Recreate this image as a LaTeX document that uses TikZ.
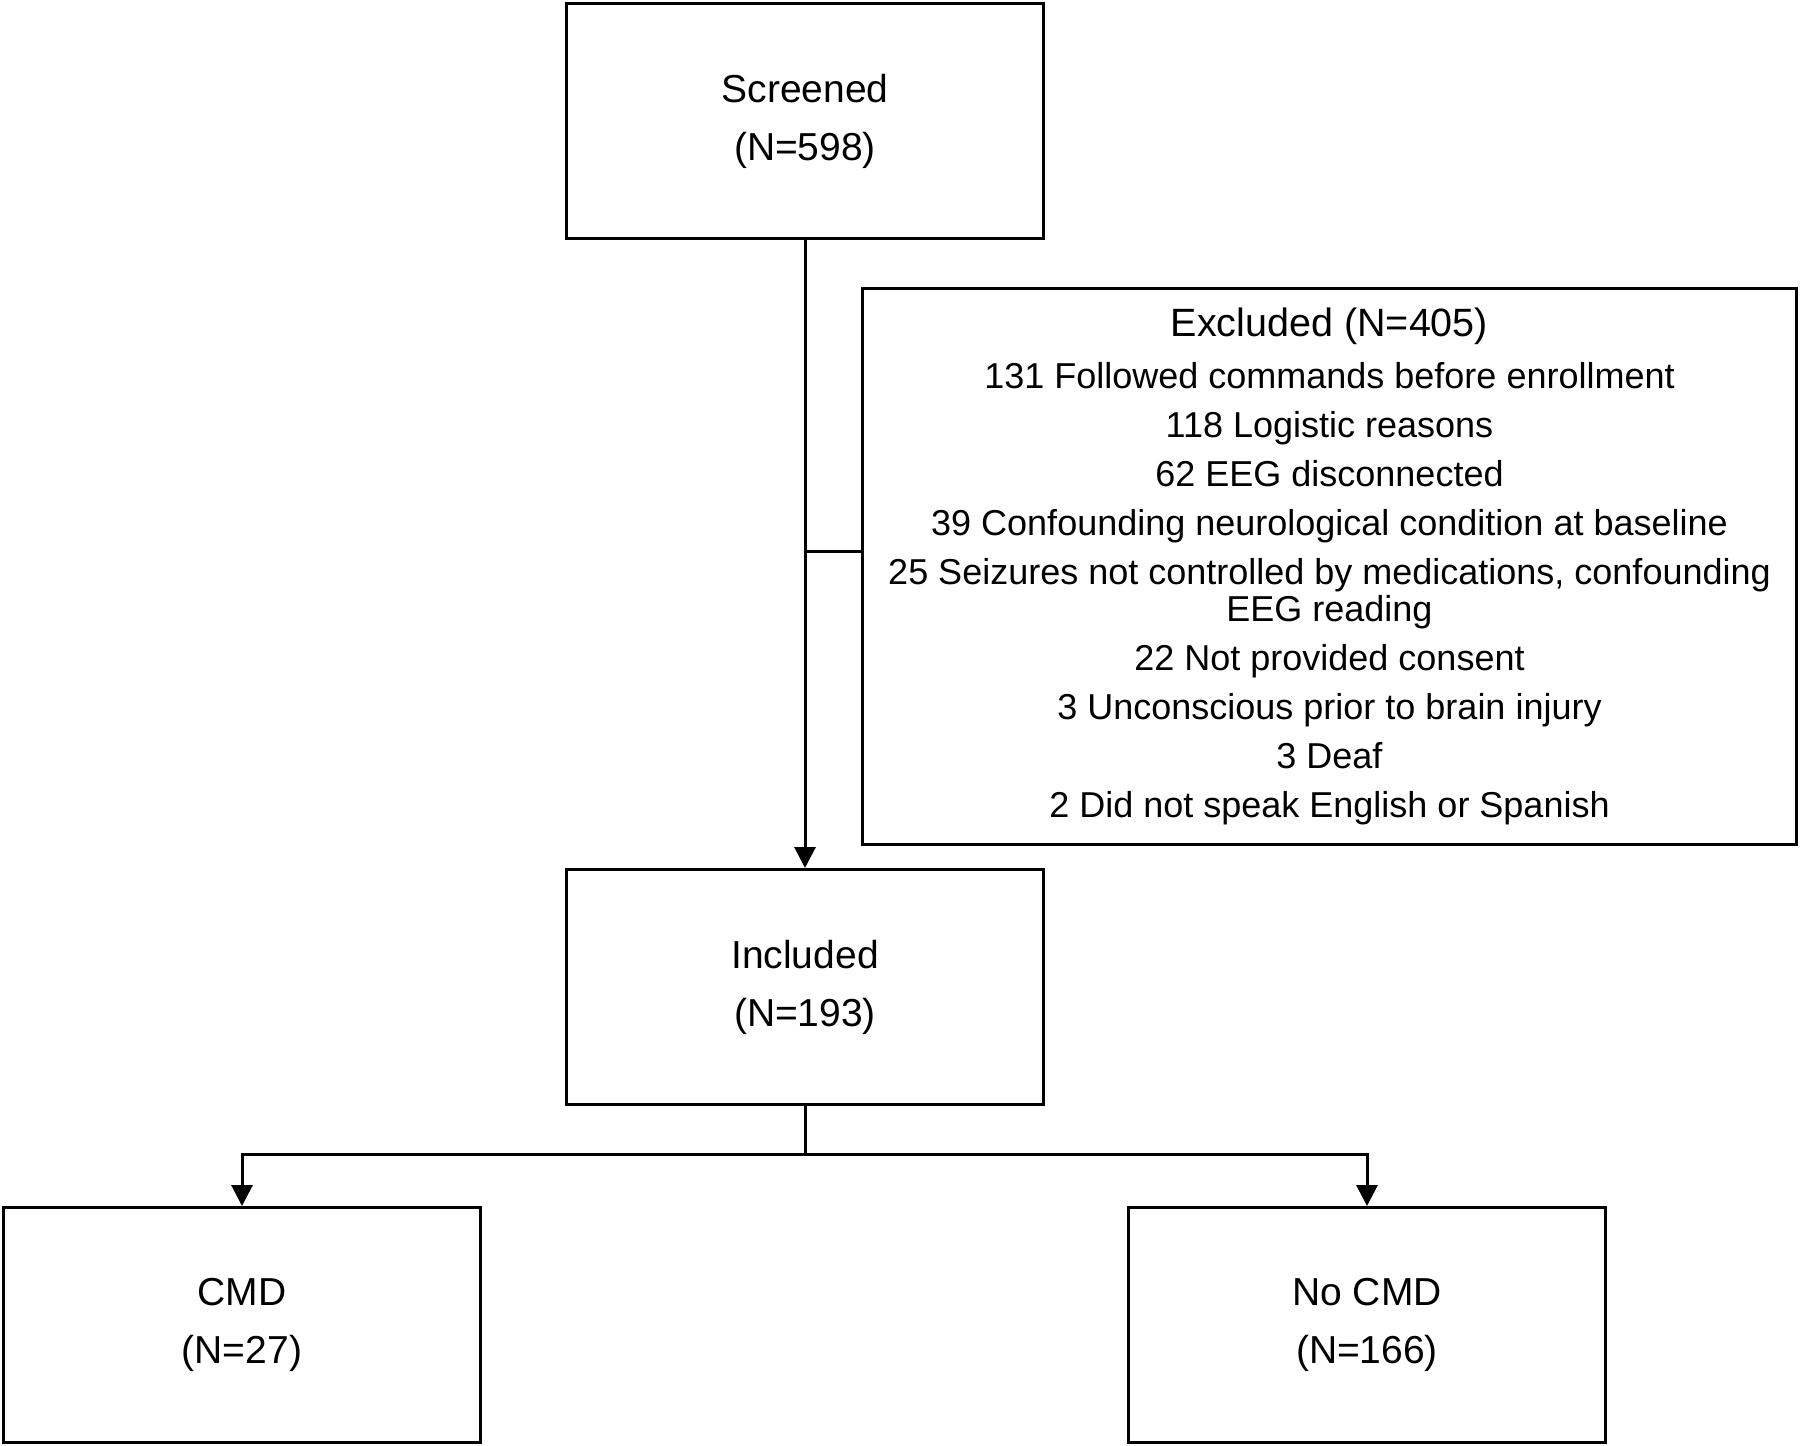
\documentclass[tikz,border=0pt]{standalone}
\usepackage{fontspec}
\setmainfont{Liberation Sans}
\usetikzlibrary{arrows.meta}
\tikzset{
  stagebox/.style={draw, line width=3pt, minimum width=477pt, minimum height=235pt,
    align=center, inner sep=0pt, font=\fontsize{39}{58}\selectfont},
  excludebox/.style={draw, line width=3pt, minimum width=934pt, minimum height=556pt,
    align=center, inner sep=0pt, font=\fontsize{36}{37}\selectfont},
  flowline/.style={line width=3pt},
  flowarrow/.style={line width=3pt, -{Triangle[width=21pt,length=21pt]}},
}
\begin{document}
\begin{tikzpicture}[x=1pt,y=-1pt]
  \useasboundingbox (0,0) rectangle (1800,1446);

  \node[stagebox] (screened) at (805,121) {Screened\\(N=598)};
  \node[stagebox] (included) at (805,987) {Included\\(N=193)};
  \node[stagebox] (cmd) at (242,1325) {CMD\\(N=27)};
  \node[stagebox] (nocmd) at (1367,1325) {No CMD\\(N=166)};

  \node[excludebox] (excluded) at (1329.5,566.5) {{\fontsize{39.5}{37}\selectfont Excluded (N=405)}\\[15pt]
    131 Followed commands before enrollment\\[12pt]
    118 Logistic reasons\\[12pt]
    62 EEG disconnected\\[12pt]
    39 Confounding neurological condition at baseline\\[12pt]
    25 Seizures not controlled by medications, confounding\\
    EEG reading\\[12pt]
    22 Not provided consent\\[12pt]
    3 Unconscious prior to brain injury\\[12pt]
    3 Deaf\\[12pt]
    2 Did not speak English or Spanish};

  \coordinate (branch) at (805,551);
  \coordinate (fork) at (805,1154);

  \draw[flowarrow] (screened) -- (included);
  \draw[flowline] (branch) -- (branch -| excluded.west);
  %\draw[gray, dashed] (0,0) grid[step=100] (1800,1446);

  \draw[flowline] (included) -- (fork);
  \draw[flowarrow] (fork) -| (cmd);
  \draw[flowarrow] (fork) -| (nocmd);
\end{tikzpicture}
\end{document}
